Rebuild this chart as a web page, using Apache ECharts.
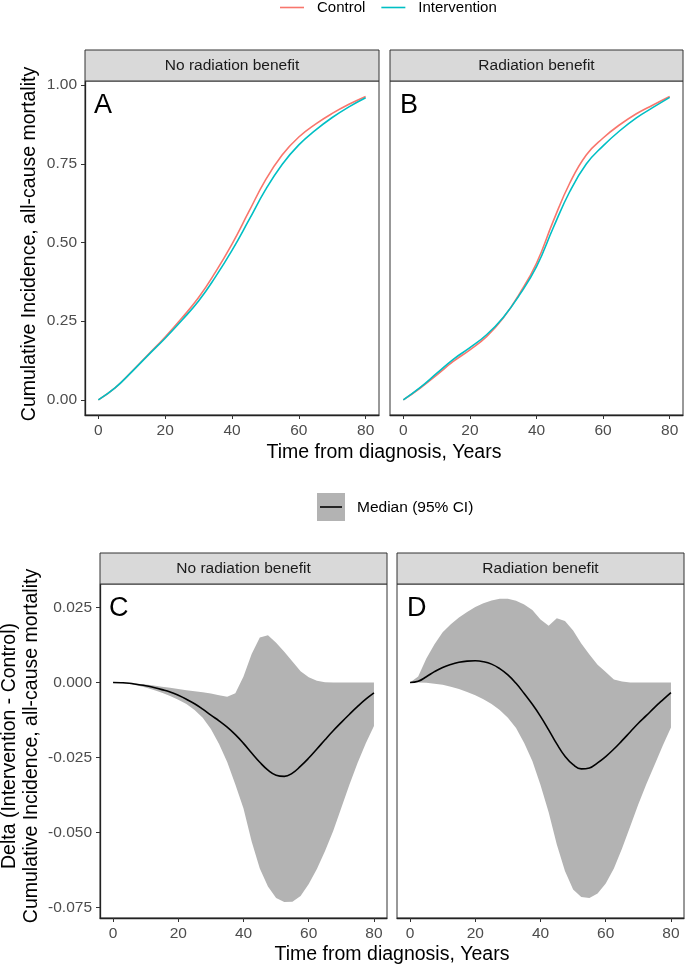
<!DOCTYPE html>
<html>
<head>
<meta charset="utf-8">
<script src="https://cdn.jsdelivr.net/npm/echarts@6/dist/echarts.min.js"></script>
<style>
html, body { margin: 0; padding: 0; background: #fff; }
#chart { width: 685px; height: 967px; }
</style>
</head>
<body>
<div id="chart"></div>
<script>
// years
var yearsTop = [0, 5, 10, 15, 20, 25, 30, 35, 40, 45, 50, 55, 60, 65, 70, 75, 80];
var yearsBot = [0, 2.5, 5, 7.5, 10, 12.5, 15, 17.5, 20, 22.5, 25, 27.5, 30, 32.5, 35, 37.5, 40,
    42.5, 45, 47.5, 50, 52.5, 55, 57.5, 60, 62.5, 65, 67.5, 70, 72.5, 75, 77.5, 80];
var xTicks = [0, 20, 40, 60, 80];
var yTicksTop = [0, 0.25, 0.5, 0.75, 1];
var yTicksBot = [-0.075, -0.05, -0.025, 0, 0.025];
var facets = ['No radiation benefit', 'Radiation benefit'];
var letters = ['A', 'B', 'C', 'D'];

// top: cumulative incidence
var controlA = [0, 0.038, 0.09, 0.145, 0.2, 0.26, 0.325, 0.405, 0.495, 0.597, 0.698, 0.778, 0.835, 0.876, 0.91, 0.939, 0.964];
var interventionA = [0, 0.038, 0.089, 0.143, 0.196, 0.253, 0.314, 0.39, 0.475, 0.57, 0.667, 0.748, 0.81, 0.857, 0.897, 0.931, 0.96];
var controlB = [0, 0.037, 0.079, 0.122, 0.159, 0.201, 0.26, 0.339, 0.434, 0.567, 0.689, 0.779, 0.832, 0.874, 0.909, 0.937, 0.964];
var interventionB = [0, 0.039, 0.084, 0.129, 0.166, 0.207, 0.262, 0.335, 0.423, 0.546, 0.662, 0.75, 0.807, 0.855, 0.896, 0.929, 0.961];

// bottom: delta, median and 95% CI
var medianC = [0, -0.0001, -0.0003, -0.0007, -0.0011, -0.0017, -0.0024, -0.0032, -0.0043, -0.0056, -0.0071, -0.0089, -0.0109, -0.0128, -0.0149, -0.0174, -0.0203,
    -0.0235, -0.0266, -0.0292, -0.0309, -0.0313, -0.0302, -0.0279, -0.0252, -0.0222, -0.0191, -0.0161, -0.0133, -0.0106, -0.008, -0.0056, -0.0035];
var upperC = [0, -0.0001, -0.0002, -0.0004, -0.0007, -0.001, -0.0014, -0.0018, -0.0022, -0.0026, -0.0029, -0.0033, -0.0037, -0.0043, -0.0048, -0.0036, 0.002,
    0.0095, 0.015, 0.0157, 0.0132, 0.0102, 0.007, 0.0037, 0.0017, 0.0006, 0.0001, 0, 0, 0, 0, 0, 0];
var lowerC = [0, -0.0002, -0.0005, -0.001, -0.0017, -0.0025, -0.0034, -0.0045, -0.0058, -0.0072, -0.0092, -0.0118, -0.0155, -0.0205, -0.0265, -0.034, -0.042,
    -0.053, -0.062, -0.068, -0.0718, -0.0732, -0.0731, -0.0712, -0.0672, -0.0622, -0.0562, -0.0495, -0.0418, -0.034, -0.0268, -0.0203, -0.0145];
var medianD = [0, 0.0004, 0.0019, 0.0036, 0.005, 0.006, 0.0067, 0.0071, 0.0072, 0.0069, 0.0061, 0.0046, 0.0025, -0.0003, -0.0037, -0.0073, -0.0113,
    -0.0158, -0.0205, -0.0246, -0.0274, -0.0288, -0.0285, -0.0268, -0.0247, -0.0222, -0.0194, -0.0165, -0.0136, -0.011, -0.0083, -0.0058, -0.0034];
var upperD = [0, 0.002, 0.008, 0.0127, 0.0167, 0.0194, 0.0216, 0.0235, 0.0251, 0.0264, 0.0273, 0.0279, 0.0279, 0.0272, 0.026, 0.0241, 0.021,
    0.0189, 0.0214, 0.0205, 0.0173, 0.013, 0.0093, 0.0059, 0.0035, 0.001, 0.0003, 0, 0, 0, 0, 0, 0];
var lowerD = [0, 0, -0.0001, -0.0004, -0.0008, -0.0014, -0.0022, -0.0032, -0.0043, -0.0056, -0.0072, -0.0092, -0.0118, -0.0152, -0.0202, -0.0262, -0.0342,
    -0.0433, -0.054, -0.0628, -0.069, -0.0715, -0.0718, -0.0703, -0.067, -0.062, -0.0553, -0.048, -0.0406, -0.0338, -0.0274, -0.021, -0.015];

var FONT = '"Liberation Sans", Arial, sans-serif';
var panels = [
    { left: 85, top: 81, width: 294, height: 334 },
    { left: 390, top: 81, width: 293, height: 334 },
    { left: 100, top: 584, width: 287, height: 334 },
    { left: 397, top: 584, width: 287, height: 334 }
];

function zip(xs, ys) {
    return xs.map(function (x, i) { return [x, ys[i]]; });
}

var grids = panels.map(function (p) {
    return { left: p.left, top: p.top, width: p.width, height: p.height,
        show: true, borderColor: '#333', borderWidth: 1, backgroundColor: '#fff' };
});

var xAxes = panels.map(function (p, i) {
    return {
        type: 'value', gridIndex: i, min: -4, max: 84,
        splitLine: { show: false },
        axisLine: { show: true, onZero: false, lineStyle: { color: '#222', width: 1.3 } },
        axisTick: { show: true, customValues: xTicks, length: 4, lineStyle: { color: '#333' } },
        axisLabel: { customValues: xTicks, color: '#4D4D4D', fontSize: 15.5, fontFamily: FONT, margin: 8 }
    };
});

var yAxes = panels.map(function (p, i) {
    var top = i < 2;
    var first = i % 2 === 0;
    return {
        type: 'value', gridIndex: i,
        min: top ? -0.048 : -0.0785,
        max: top ? 1.013 : 0.0328,
        splitLine: { show: false },
        axisLine: { show: first, onZero: false, lineStyle: { color: '#222', width: 1.3 } },
        axisTick: { show: first, customValues: top ? yTicksTop : yTicksBot, length: 4, lineStyle: { color: '#333' } },
        axisLabel: {
            show: first, customValues: top ? yTicksTop : yTicksBot,
            color: '#4D4D4D', fontSize: 15.5, fontFamily: FONT, margin: 8,
            formatter: function (v) { return v.toFixed(top ? 2 : 3); }
        }
    };
});

function curve(name, idx, xs, ys, color) {
    return {
        name: name, type: 'line', xAxisIndex: idx, yAxisIndex: idx,
        data: zip(xs, ys), smooth: 0.45, symbol: 'none', showSymbol: false, silent: true,
        lineStyle: { color: color, width: 1.6 }, itemStyle: { color: color }
    };
}

// 95% CI ribbon: one polygon through upper edge then back along lower edge
function band(idx, lower, upper) {
    return {
        type: 'custom', xAxisIndex: idx, yAxisIndex: idx, silent: true,
        data: yearsBot.map(function (x, i) { return [x, lower[i], upper[i]]; }),
        encode: { x: 0, y: [1, 2] },
        renderItem: function (params, api) {
            if (params.dataIndexInside !== 0) return;
            var n = params.dataInsideLength;
            var pts = [], j;
            for (j = 0; j < n; j++) pts.push(api.coord([api.value(0, j), api.value(2, j)]));
            for (j = n - 1; j >= 0; j--) pts.push(api.coord([api.value(0, j), api.value(1, j)]));
            return { type: 'polygon', shape: { points: pts }, style: { fill: '#B3B3B3' } };
        }
    };
}

var series = [
    curve('Control', 0, yearsTop, controlA, '#F8766D'),
    curve('Intervention', 0, yearsTop, interventionA, '#00BFC4'),
    curve('Control', 1, yearsTop, controlB, '#F8766D'),
    curve('Intervention', 1, yearsTop, interventionB, '#00BFC4'),
    band(2, lowerC, upperC),
    band(3, lowerD, upperD),
    curve('Median', 2, yearsBot, medianC, '#000'),
    curve('Median', 3, yearsBot, medianD, '#000')
];

var graphics = [];
panels.forEach(function (p, i) {
    // facet strip
    graphics.push({ type: 'rect', z: 100, shape: { x: p.left, y: p.top - 31, width: p.width, height: 31 },
        style: { fill: '#D9D9D9', stroke: '#333', lineWidth: 1 } });
    graphics.push({ type: 'text', z: 101, x: p.left + p.width / 2, y: p.top - 15.5,
        style: { text: facets[i % 2], font: '15.5px ' + FONT, fill: '#1A1A1A',
            align: 'center', verticalAlign: 'middle', textAlign: 'center', textVerticalAlign: 'middle' } });
    // panel letter
    graphics.push({ type: 'text', z: 101, x: p.left + (i % 2 ? 10 : 9), y: p.top + 25,
        style: { text: letters[i], font: '27px ' + FONT, fill: '#000',
            align: 'left', verticalAlign: 'middle', textAlign: 'left', textVerticalAlign: 'middle' } });
});

function label(text, x, y, size, rot) {
    return { type: 'text', z: 101, x: x, y: y, rotation: rot || 0,
        style: { text: text, font: size + 'px ' + FONT, fill: '#000',
            align: 'center', verticalAlign: 'middle', textAlign: 'center', textVerticalAlign: 'middle' } };
}
graphics.push(label('Time from diagnosis, Years', 384, 453, 19.5));
graphics.push(label('Time from diagnosis, Years', 392, 955, 19.5));
graphics.push(label('Cumulative Incidence, all-cause mortality', 30, 244, 19.5, Math.PI / 2));
graphics.push(label('Delta (Intervention - Control)', 10, 746, 19.5, Math.PI / 2));
graphics.push(label('Cumulative Incidence, all-cause mortality', 31.5, 746, 19.5, Math.PI / 2));

// median legend
graphics.push({ type: 'rect', z: 100, shape: { x: 317, y: 493, width: 28, height: 28 }, style: { fill: '#B3B3B3' } });
graphics.push({ type: 'line', z: 101, shape: { x1: 320, y1: 507, x2: 342, y2: 507 }, style: { stroke: '#000', lineWidth: 1.6 } });
graphics.push({ type: 'text', z: 101, x: 357, y: 508,
    style: { text: 'Median (95% CI)', font: '15.5px ' + FONT, fill: '#000',
        align: 'left', verticalAlign: 'middle', textAlign: 'left', textVerticalAlign: 'middle' } });

var chart = echarts.init(document.getElementById('chart'), null, { renderer: 'canvas' });
chart.setOption({
    backgroundColor: '#fff',
    animation: false,
    legend: {
        data: ['Control', 'Intervention'], left: 280, top: 0, padding: 0,
        icon: 'rect', itemWidth: 24, itemHeight: 1.6, itemGap: 16,
        textStyle: { fontSize: 15, fontFamily: FONT, color: '#000', padding: [0, 0, 0, 8] }
    },
    grid: grids,
    xAxis: xAxes,
    yAxis: yAxes,
    series: series,
    graphic: graphics
});
</script>
</body>
</html>
